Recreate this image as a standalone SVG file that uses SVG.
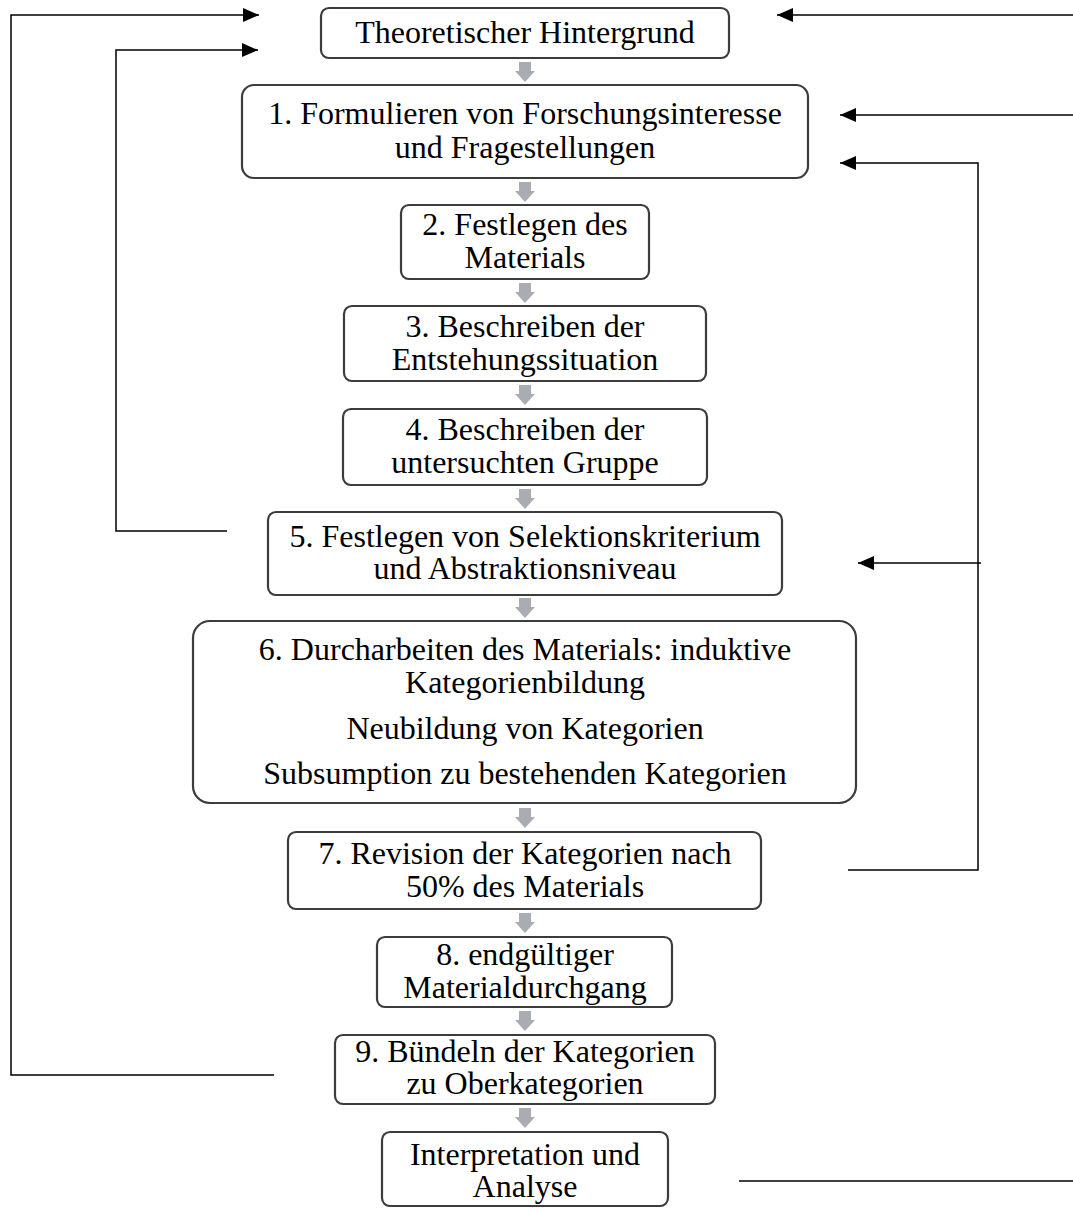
<svg xmlns="http://www.w3.org/2000/svg" xmlns:xlink="http://www.w3.org/1999/xlink" width="1073" height="1208" viewBox="0 0 1073 1208">
<defs>
<style>
.box{fill:#ffffff;stroke:#3c3c3c;stroke-width:2.2}
.t{font-family:"Liberation Serif","Times New Roman",serif;font-size:32px;fill:#000000;text-anchor:middle}
.ln{fill:none;stroke:#000000;stroke-width:1.5}
.ga{fill:#a9acb2}
</style>
<marker id="ah" markerUnits="userSpaceOnUse" markerWidth="17" markerHeight="15" refX="16" refY="7" orient="auto">
<path d="M0,0 L16,7 L0,14 Z" fill="#000000"/>
</marker>
<path id="garrow" class="ga" d="M-6,0 H6 V9 H10 L0,20 L-10,9 H-6 Z"/>
</defs>
<rect width="1073" height="1208" fill="#ffffff"/>

<g id="connectors">
<path class="ln" d="M274,1075 H11 V15 H259" marker-end="url(#ah)"/>
<path class="ln" d="M227,531 H116 V50 H258" marker-end="url(#ah)"/>
<path class="ln" d="M1073,15 H777" marker-end="url(#ah)"/>
<path class="ln" d="M1073,115 H840" marker-end="url(#ah)"/>
<path class="ln" d="M848,870 H978 V163 H840" marker-end="url(#ah)"/>
<path class="ln" d="M981,563 H858" marker-end="url(#ah)"/>
<path class="ln" d="M739,1181 H1073"/>
<use xlink:href="#garrow" href="#garrow" x="525" y="62"/>
<use xlink:href="#garrow" href="#garrow" x="525" y="182"/>
<use xlink:href="#garrow" href="#garrow" x="525" y="283"/>
<use xlink:href="#garrow" href="#garrow" x="525" y="385"/>
<use xlink:href="#garrow" href="#garrow" x="525" y="489"/>
<use xlink:href="#garrow" href="#garrow" x="525" y="598"/>
<use xlink:href="#garrow" href="#garrow" x="525" y="808"/>
<use xlink:href="#garrow" href="#garrow" x="525" y="913"/>
<use xlink:href="#garrow" href="#garrow" x="525" y="1011"/>
<use xlink:href="#garrow" href="#garrow" x="525" y="1108"/>
</g>

<g id="node-hintergrund">
<rect class="box" x="321" y="8" width="408" height="50" rx="8"/>
<text class="t" x="525" y="43">Theoretischer Hintergrund</text>
</g>

<g id="node-1">
<rect class="box" x="242" y="85" width="566" height="93" rx="12"/>
<text class="t" x="525" y="124">1. Formulieren von Forschungsinteresse</text>
<text class="t" x="525" y="158">und Fragestellungen</text>
</g>

<g id="node-2">
<rect class="box" x="401" y="205" width="248" height="74" rx="8"/>
<text class="t" x="525" y="235">2. Festlegen des</text>
<text class="t" x="525" y="268">Materials</text>
</g>

<g id="node-3">
<rect class="box" x="344" y="306" width="362" height="75" rx="8"/>
<text class="t" x="525" y="337">3. Beschreiben der</text>
<text class="t" x="525" y="370">Entstehungssituation</text>
</g>

<g id="node-4">
<rect class="box" x="343" y="409" width="364" height="76" rx="8"/>
<text class="t" x="525" y="440">4. Beschreiben der</text>
<text class="t" x="525" y="473">untersuchten Gruppe</text>
</g>

<g id="node-5">
<rect class="box" x="268" y="512" width="514" height="83" rx="8"/>
<text class="t" x="525" y="547">5. Festlegen von Selektionskriterium</text>
<text class="t" x="525" y="579">und Abstraktionsniveau</text>
</g>

<g id="node-6">
<rect class="box" x="193" y="621" width="663" height="182" rx="17"/>
<text class="t" x="525" y="660">6. Durcharbeiten des Materials: induktive</text>
<text class="t" x="525" y="693">Kategorienbildung</text>
<text class="t" x="525" y="739">Neubildung von Kategorien</text>
<text class="t" x="525" y="784">Subsumption zu bestehenden Kategorien</text>
</g>

<g id="node-7">
<rect class="box" x="288" y="832" width="473" height="77" rx="8"/>
<text class="t" x="525" y="864">7. Revision der Kategorien nach</text>
<text class="t" x="525" y="897">50% des Materials</text>
</g>

<g id="node-8">
<rect class="box" x="377" y="937" width="295" height="70" rx="8"/>
<text class="t" x="525" y="965">8. endgültiger</text>
<text class="t" x="525" y="998">Materialdurchgang</text>
</g>

<g id="node-9">
<rect class="box" x="335" y="1035" width="380" height="69" rx="8"/>
<text class="t" x="525" y="1062">9. Bündeln der Kategorien</text>
<text class="t" x="525" y="1094">zu Oberkategorien</text>
</g>

<g id="node-interpretation">
<rect class="box" x="382" y="1132" width="286" height="74" rx="8"/>
<text class="t" x="525" y="1165">Interpretation und</text>
<text class="t" x="525" y="1197">Analyse</text>
</g>
</svg>
